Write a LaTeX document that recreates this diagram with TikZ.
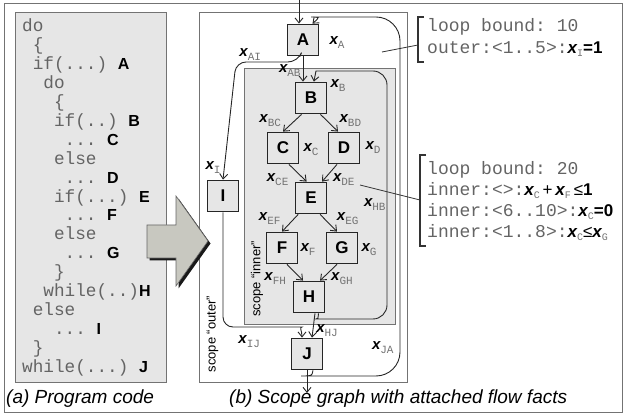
\documentclass[tikz,border=0pt]{standalone}
\usepackage{fontspec}
\setmainfont{Liberation Sans}
\setmonofont{Liberation Mono}
\usetikzlibrary{arrows.meta,positioning}

\definecolor{boxgray}{RGB}{230,230,230}
\definecolor{arrowgray}{RGB}{200,200,192}
\definecolor{codegray}{RGB}{100,100,100}

\newcommand{\codefont}{\fontsize{17.7}{19}\selectfont\ttfamily}
\newcommand{\factfont}{\fontsize{18}{21}\selectfont\ttfamily}
\newcommand{\lt}[1]{{\rmfamily\bfseries\fontsize{16}{16}\selectfont\color{black}#1}}
\newcommand{\xv}[1]{{\fontsize{15}{15}\selectfont\bfseries\itshape x}\raisebox{-4pt}{\fontsize{11}{11}\selectfont\ttfamily\color{black!55}#1}}
\newcommand{\xf}[1]{{\rmfamily\fontsize{17}{17}\selectfont\bfseries\itshape\color{black}x}\raisebox{-3pt}{\fontsize{10}{10}\selectfont\ttfamily\color{black!55}#1}}
\newcommand{\op}[1]{{\rmfamily\fontsize{17}{17}\selectfont\color{black}#1}}
\newcommand{\bn}[1]{{\rmfamily\fontsize{17}{17}\selectfont\bfseries\color{black}#1}}

\tikzstyle{blk} = [rectangle, draw=black!85, line width=1.8pt, fill=boxgray, minimum width=31pt, minimum height=31pt, inner sep=0pt, font=\fontsize{17}{17}\selectfont\bfseries]
\tikzstyle{flow} = [->, draw=black!85, line width=0.9pt]
\tikzstyle{lab} = [inner sep=0pt]
\tikzstyle{code} = [anchor=base west, inner sep=0pt, font=\codefont, text=codegray]
\tikzstyle{fact} = [anchor=base west, inner sep=0pt, font=\factfont, text=codegray]
\tikzstyle{frame} = [draw=black!55, line width=0.8pt]

\begin{document}
\begin{tikzpicture}[x=1pt,y=-1pt,node distance=50pt,>={Straight Barb[length=5pt,width=8pt]}]
\useasboundingbox (0,0) rectangle (624,419);

% panels
\draw[frame] (4,3) rectangle (622,412);
\filldraw[frame, fill=boxgray] (15,12) rectangle (166,382);
\draw[frame] (199,12) rectangle (407,382);
\filldraw[frame, fill=boxgray] (244,68) rectangle (395,324);

% program code
\node[code] (c0) at (22,32) {do};
\node[code] (c1) at (22,50.9) {~\{};
\node[code] (c2) at (22,69.8) {~if(...) \lt{A}};
\node[code] (c3) at (22,88.7) {~~do};
\node[code] (c4) at (22,107.6) {~~~\{};
\node[code] (c5) at (22,126.5) {~~~if(..) \lt{B}};
\node[code] (c6) at (22,145.4) {~~~~... \lt{C}};
\node[code] (c7) at (22,164.3) {~~~else};
\node[code] (c8) at (22,183.2) {~~~~... \lt{D}};
\node[code] (c9) at (22,202.1) {~~~if(...) \lt{E}};
\node[code] (c10) at (22,221) {~~~~... \lt{F}};
\node[code] (c11) at (22,239.9) {~~~else};
\node[code] (c12) at (22,258.8) {~~~~... \lt{G}};
\node[code] (c13) at (22,277.7) {~~~\}};
\node[code] (c14) at (22,296.6) {~~while(..)\lt{H}};
\node[code] (c15) at (22,315.5) {~else};
\node[code] (c16) at (22,334.4) {~~~... \lt{I}};
\node[code] (c17) at (22,353.3) {~\}};
\node[code] (c18) at (22,372.2) {while(...) \lt{J}};

% scope graph
\node[blk] (A) at (303,40) {A};
\node[blk] (B) [below of=A, xshift=8pt, yshift=-8pt] {B};
\node[blk] (C) [below of=B, xshift=-28pt] {C};
\node[blk] (D) [below of=B, xshift=33pt] {D};
\node[blk] (E) [below of=C, xshift=28pt] {E};
\node[blk] (F) [below of=E, xshift=-29pt] {F};
\node[blk] (G) [below of=E, xshift=31pt] {G};
\node[blk] (H) [below of=E, xshift=-2pt, yshift=-49pt] {H};
\node[blk] (J) [below of=H, xshift=-2pt, yshift=-7pt] {J};
\node[blk] (I) [left of=E, xshift=-38pt, yshift=2pt] {I};

\node[lab] (xA) [right of=A, xshift=-16pt, yshift=-3pt] {\xv{A}};
\node[lab] (xB) [right of=B, xshift=-23pt, yshift=12pt] {\xv{B}};
\node[lab] (xC) [right of=C, xshift=-22pt, yshift=-2pt] {\xv{C}};
\node[lab] (xD) [right of=D, xshift=-21pt] {\xv{D}};
\node[lab] (xF) [right of=F, xshift=-24pt, yshift=-2pt] {\xv{F}};
\node[lab] (xG) [right of=G, xshift=-23pt, yshift=-2pt] {\xv{G}};
\node[lab] (xI) [above of=I, xshift=-10pt, yshift=-22pt] {\xv{I}};

\node[font=\fontsize{13}{13}\selectfont, rotate=90] (outerlab) at (212.5,334) {scope “outer”};
\node[font=\fontsize{13}{13}\selectfont, rotate=90] (innerlab) at (257,279) {scope “inner”};

\coordinate (in) at (299,0);
\coordinate (out) at (307,393);

\draw[flow] (in) -- (in |- A.north);
\draw[flow] (A.south) -- (A.south |- B.north)
  node[lab, left=2pt, pos=0.58] {\xv{AB}};
\draw[flow] (B.240) -- (C.north)
  node[lab, left=13pt, pos=0.38] {\xv{BC}};
\draw[flow] (B.300) -- (D.110)
  node[lab, right=12pt, pos=0.38] {\xv{BD}};
\draw[flow] (C.290) -- (E.105)
  node[lab, left=16pt, pos=0.9] {\xv{CE}};
\draw[flow] (D.247) -- (E.56)
  node[lab, right=9pt, pos=0.9] {\xv{DE}};
\draw[flow] (E.232) -- (F.north)
  node[lab, left=13pt, pos=0.26] {\xv{EF}};
\draw[flow] (E.299) -- (G.107)
  node[lab, right=12pt, pos=0.26] {\xv{EG}};
\draw[flow] (F.287) -- (H.110)
  node[lab, left=15pt, pos=0.9] {\xv{FH}};
\draw[flow] (G.253) -- (H.56)
  node[lab, right=9pt, pos=0.9] {\xv{GH}};
\draw[flow] (H.290) -- (J.73)
  node[lab, right=3pt, pos=0.73] {\xv{HJ}};
\draw[flow] (J.south) -- (out);

\draw[flow, rounded corners=10pt] (A.260) -- (298,62)
  -- node[lab, above=1pt, pos=0.77] {\xv{AI}} (236,62) -- (I.north);
\draw[flow, rounded corners=10pt] (I.south) -- (223,327)
  -- node[lab, below=8pt, pos=0.38] {\xv{IJ}} (292,327)
  [sharp corners] .. controls (299,327) and (302,331) .. (J.107);
\draw[flow, rounded corners=14pt] (H.300) .. controls (318,319) .. (330,319)
  -- (387,319) -- node[lab, left=1pt, pos=0.46] {\xv{HB}} (387,71)
  -- (330,71) .. controls (316,71) .. (B.80);
\draw[flow, rounded corners=24pt] (J.290) .. controls (312,376) .. (325,376)
  -- (400,376) -- node[lab, left=6pt, pos=0.08] {\xv{JA}} (400,17)
  -- (335,17) .. controls (320,17) .. (A.60);

% flow facts
\node[fact] (f1) at (427,32) {loop bound: 10};
\node[fact] (f2) at (427,54) {outer:<1..5>:\xf{I}\bn{=1}};
\node[fact] (f3) at (427,175) {loop bound: 20};
\node[fact] (f4) at (427,196) {inner:<>:\xf{C}\op{\,+\,}\xf{F}\op{\,≤}\bn{1}};
\node[fact] (f5) at (427,217) {inner:<6..10>:\xf{C}\bn{=0}};
\node[fact] (f6) at (427,238) {inner:<1..8>:\xf{C}\op{≤}\xf{G}};

\coordinate (p1) at (382,52);
\coordinate (b1) at (418,45);
\coordinate (p2) at (360,185);
\coordinate (b2) at (420,200);
\draw[black!80, line width=0.8pt] (p1) -- (b1);
\draw[black!80, line width=0.8pt] (p2) -- (b2);
\draw[black!80, line width=1.1pt] (424,17) -- (418,17) -- (418,62) -- (424,62);
\draw[black!80, line width=1.1pt] (426,155) -- (420,155) -- (420,246) -- (426,246);

% captions
\node[anchor=base west, inner sep=0pt, font=\fontsize{19}{19}\selectfont\itshape] (capa) at (6,404) {(a) Program code};
\node[anchor=base west, inner sep=0pt, font=\fontsize{19}{19}\selectfont\itshape] (capb) at (229,404) {(b) Scope graph with attached flow facts};

% big arrow
\fill[black!90, shift={(2.5,2.5)}] (147,225) -- (176,225) -- (176,196) -- (208,241) -- (176,286) -- (176,258) -- (147,258) -- cycle;
\filldraw[fill=arrowgray, draw=black!60, line width=0.6pt] (147,225) -- (176,225) -- (176,196) -- (208,241) -- (176,286) -- (176,258) -- (147,258) -- cycle;

\end{tikzpicture}
\end{document}
